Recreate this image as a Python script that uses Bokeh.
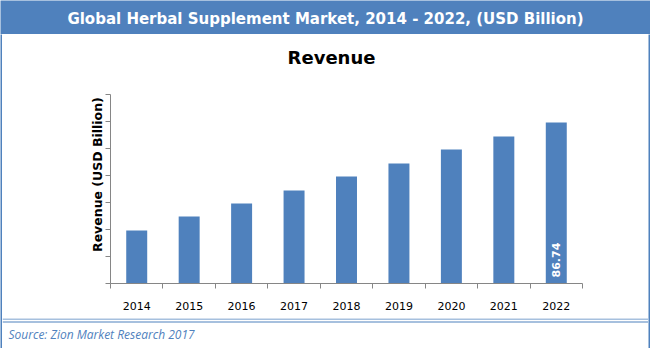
import math
from bokeh.plotting import figure
from bokeh.layouts import column, row
from bokeh.models import (Range1d, FixedTicker, LinearAxis, Label, Span,
                          CustomJSTickFormatter, ColumnDataSource)
from bokeh.core.properties import value
from bokeh.embed import file_html
from bokeh.resources import INLINE

years = ["2014", "2015", "2016", "2017", "2018", "2019", "2020", "2021", "2022"]
revenue = [28.6, 36.1, 43.1, 50.1, 57.7, 64.7, 72.2, 79.2, 86.74]
y_ticks = [0, 14.54, 29.08, 43.62, 58.16, 72.70, 87.24, 101.8]

header_text = "Global Herbal Supplement Market, 2014 - 2022, (USD Billion)"
chart_title = "Revenue"
y_title = "Revenue (USD Billion)"
source_text = "Source: Zion Market Research 2017"

BLUE = "#4F81BD"
GRAY = "#868686"


def blank(width, height, fill="white"):
    f = figure(width=width, height=height, output_backend="svg", toolbar_location=None,
               x_range=Range1d(0, width), y_range=Range1d(0, height),
               x_axis_type=None, y_axis_type=None,
               min_border_left=0, min_border_right=0,
               min_border_top=0, min_border_bottom=0)
    f.grid.visible = False
    f.outline_line_color = None
    f.background_fill_color = fill
    f.border_fill_color = fill
    return f


# ---- header band (y 0..34)
header = blank(650, 34, fill=BLUE)
header.add_layout(Label(x=325, y=16, text=header_text, text_align="center",
                        text_baseline="middle", text_color="white",
                        text_font="DejaVu Sans", text_font_style="bold",
                        text_font_size="15px"))

# ---- chart title band (y 34..82, x 2..648)
title_band = blank(646, 48)
title_band.add_layout(Label(x=329, y=25, text=chart_title, text_align="center",
                            text_baseline="middle", text_color="black",
                            text_font="DejaVu Sans", text_font_style="bold",
                            text_font_size="18px"))

# ---- y-title strip (x 2..104, y 82..318)
side = blank(102, 236)
side.add_layout(Label(x=95, y=136, text=y_title, angle=math.pi / 2, text_align="center",
                      text_baseline="middle", text_color="black",
                      text_font="DejaVu Sans", text_font_style="bold",
                      text_font_size="12.5px"))

# ---- main chart (x 104..648, y 82..318); frame x 110..582, y 94..283
p = figure(width=544, height=236, output_backend="svg", toolbar_location=None,
           x_range=Range1d(0, len(years)), y_range=Range1d(0, y_ticks[-1]),
           x_axis_type=None, y_axis_type=None,
           min_border_left=6, min_border_right=66,
           min_border_top=12, min_border_bottom=35)
p.outline_line_color = None
p.grid.visible = False
p.background_fill_color = "white"
p.border_fill_color = "white"

centers = [i + 0.5 for i in range(len(years))]
src = ColumnDataSource(dict(x=centers, top=revenue, year=years))
p.vbar(x="x", top="top", width=0.4, bottom=0, source=src, fill_color=BLUE, line_color=None)

xaxis = LinearAxis(ticker=FixedTicker(ticks=centers, minor_ticks=list(range(len(years) + 1))))
xaxis.major_label_overrides = {c: y for c, y in zip(centers, years)}
xaxis.major_tick_out = 0
xaxis.major_tick_in = 0
xaxis.minor_tick_out = 5
xaxis.minor_tick_in = 0
xaxis.minor_tick_line_color = GRAY
xaxis.axis_line_color = GRAY
xaxis.major_label_standoff = 13
xaxis.major_label_text_font = "DejaVu Sans"
xaxis.major_label_text_font_size = "11px"
xaxis.major_label_text_color = "black"
p.add_layout(xaxis, "below")

yaxis = LinearAxis(ticker=FixedTicker(ticks=y_ticks, minor_ticks=[]))
yaxis.formatter = CustomJSTickFormatter(code="return ''")
yaxis.major_tick_out = 5
yaxis.major_tick_in = 0
yaxis.major_tick_line_color = GRAY
yaxis.axis_line_color = GRAY
yaxis.major_label_standoff = 0
p.add_layout(yaxis, "left")

p.text(x=[centers[-1]], y=[0], text=[f"{revenue[-1]:.2f}"], angle=math.pi / 2,
       y_offset=-6, text_align="left", text_baseline="middle",
       text_color="white", text_font=value("DejaVu Sans"), text_font_style="bold",
       text_font_size="11px")

# ---- footer (y 318..348) with double separator line
footer = blank(646, 30)
footer.add_layout(Span(location=29.5, dimension="width", line_color=BLUE, line_width=1))
footer.add_layout(Span(location=26.5, dimension="width", line_color=BLUE, line_width=1))
footer.add_layout(Label(x=6, y=14, text=source_text, text_align="left",
                        text_baseline="middle", text_color=BLUE,
                        text_font="Open Sans", text_font_style="italic",
                        text_font_size="12px"))

# ---- blue frame strips
lstrip = blank(2, 314, fill=BLUE)
rstrip = blank(2, 314, fill=BLUE)
bstrip = blank(650, 2, fill=BLUE)

mid = column(title_band, row(side, p), footer)
layout = column(header, row(lstrip, mid, rstrip), bstrip,
                styles={"background-color": "white"})

open("out.html", "w").write(file_html(layout, INLINE))
